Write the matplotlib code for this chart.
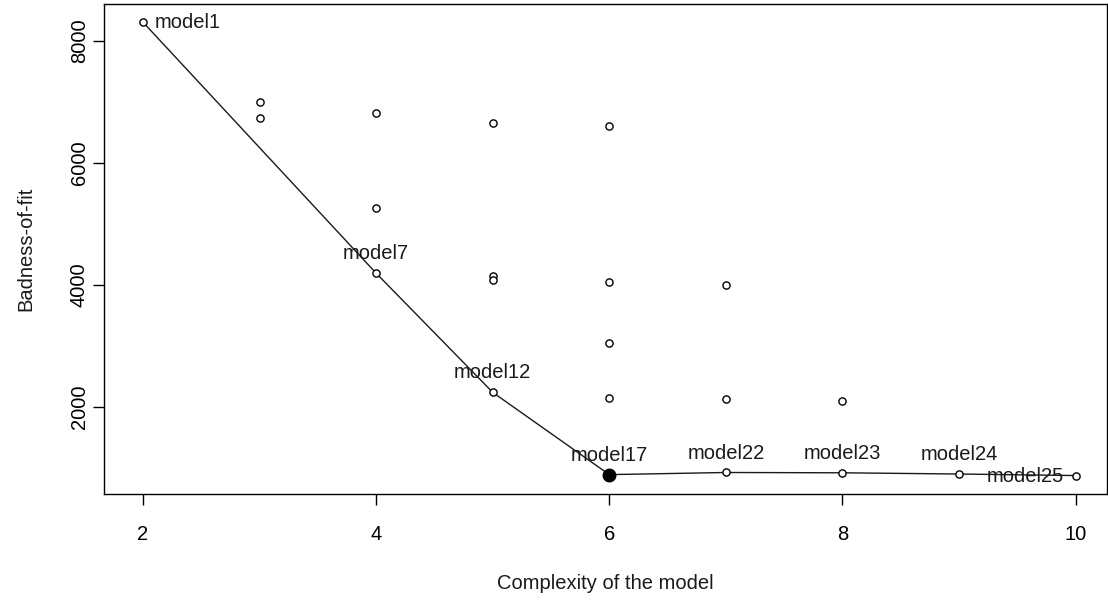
import matplotlib
matplotlib.use("Agg")
import matplotlib.pyplot as plt

plt.rcParams['font.family'] = ['Liberation Sans', 'DejaVu Sans']

# All candidate models: complexity vs. badness-of-fit
complexity = [2, 3, 3, 4, 4, 4, 5, 5, 5, 5, 6, 6, 6, 6, 6, 7, 7, 7, 8, 8, 9, 10]
badness = [8310, 7005, 6735, 6815, 5260, 4190, 6655, 4150, 4085, 2235,
           6605, 4045, 3045, 2145, 885, 4000, 2130, 920, 2100, 915, 895, 870]

# Pareto-front models (connected by the line and labelled)
front_names = ["model1", "model7", "model12", "model17",
               "model22", "model23", "model24", "model25"]
front_x = [2, 4, 5, 6, 7, 8, 9, 10]
front_y = [8310, 4190, 2235, 885, 920, 915, 895, 870]

# Selected model
best_x = [6]
best_y = [885]

xticks = [2, 4, 6, 8, 10]
yticks = [2000, 4000, 6000, 8000]

fig = plt.figure(figsize=(11.08, 6.0), dpi=100)
ax = fig.add_axes([104 / 1108, 1 - 494 / 600, (1107 - 104) / 1108, (494 - 4) / 600])

ax.plot(front_x, front_y, color="#1a1a1a", lw=1.0, zorder=1)
ax.plot(complexity, badness, linestyle="none", marker="o", ms=5.2,
        mfc="white", mec="black", mew=1.0, zorder=2)
ax.plot(best_x, best_y, linestyle="none", marker="o", ms=9,
        mfc="black", mec="black", zorder=3)

fs = 14.5
for name, x, y in zip(front_names, front_x, front_y):
    if name == "model1":
        ax.annotate(name, (x, y), xytext=(8.5, 0), textcoords="offset points",
                    ha="left", va="center", fontsize=fs, color="#1a1a1a")
    elif name == "model25":
        ax.annotate(name, (x, y), xytext=(-8.5, -1), textcoords="offset points",
                    ha="right", va="center", fontsize=fs, color="#1a1a1a")
    else:
        ax.annotate(name, (x, y), xytext=(0, 14), textcoords="offset points",
                    ha="center", va="center", fontsize=fs, color="#1a1a1a")

ax.set_xlim(1.665, 10.27)
ax.set_ylim(567, 8609)
ax.set_xticks(xticks)
ax.set_yticks(yticks)
ax.set_xticklabels([str(t) for t in xticks], fontsize=fs)
ax.set_yticklabels([str(t) for t in yticks], fontsize=fs, rotation=90, va="center")
ax.tick_params(axis="both", direction="out", length=8, width=1, color="black")
ax.tick_params(axis="x", pad=14)
ax.tick_params(axis="y", pad=3)
for s in ax.spines.values():
    s.set_linewidth(1.0)
    s.set_color("black")

ax.set_xlabel("Complexity of the model", fontsize=fs, labelpad=22, color="#1a1a1a")
ax.set_ylabel("Badness-of-fit", fontsize=fs, labelpad=25, color="#1a1a1a")

fig.savefig("out.png", dpi=100, facecolor="white")
